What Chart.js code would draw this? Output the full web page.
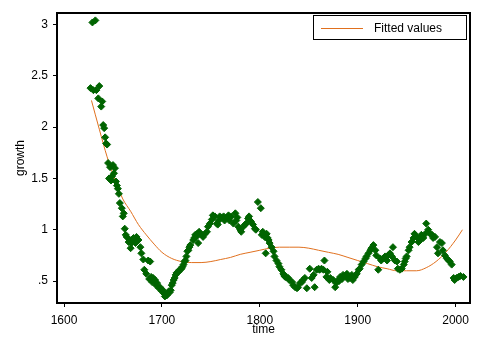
<!DOCTYPE html>
<html>
<head>
<meta charset="utf-8">
<title>growth vs time</title>
<script src="https://cdn.jsdelivr.net/npm/chart.js@4/dist/chart.umd.min.js"></script>
<style>
  body { margin: 0; background: #fff; }
  canvas { display: block; }
</style>
</head>
<body>
<canvas id="myChart" width="484" height="352"></canvas>
<script>
// scatter: growth by year
const years = [
  1627, 1629, 1630, 1632, 1633, 1635, 1636, 1638, 1639, 1640, 1641, 1642, 1643, 1644,
  1645, 1646, 1647, 1648, 1649, 1650, 1651, 1652, 1653, 1654, 1655, 1656, 1657, 1659,
  1660, 1661, 1662, 1663, 1664, 1666, 1667, 1668, 1669, 1671, 1673, 1674, 1676, 1678,
  1679, 1681, 1682, 1684, 1686, 1687, 1688, 1689, 1690, 1691, 1692, 1693, 1694, 1695,
  1697, 1698, 1700, 1701, 1702, 1703, 1704, 1705, 1706, 1707, 1708, 1709, 1710, 1711,
  1712, 1713, 1714, 1715, 1717, 1718, 1720, 1721, 1722, 1723, 1724, 1725, 1726, 1727,
  1728, 1729, 1732, 1733, 1734, 1735, 1736, 1737, 1738, 1739, 1741, 1742, 1744, 1746,
  1747, 1749, 1751, 1752, 1754, 1756, 1757, 1758, 1759, 1761, 1763, 1764, 1766, 1768,
  1769, 1771, 1773, 1775, 1776, 1777, 1778, 1780, 1781, 1783, 1785, 1786, 1788, 1789,
  1790, 1791, 1793, 1795, 1796, 1798, 1801, 1802, 1803, 1804, 1805, 1806, 1807, 1808,
  1809, 1810, 1812, 1814, 1815, 1817, 1819, 1820, 1822, 1824, 1825, 1826, 1827, 1829,
  1830, 1833, 1834, 1836, 1838, 1839, 1841, 1843, 1844, 1846, 1848, 1851, 1853, 1855,
  1856, 1858, 1860, 1861, 1863, 1865, 1866, 1868, 1869, 1871, 1872, 1875, 1877, 1878,
  1880, 1881, 1882, 1884, 1885, 1887, 1889, 1890, 1892, 1894, 1895, 1897, 1899, 1901,
  1902, 1904, 1906, 1908, 1909, 1911, 1913, 1914, 1916, 1918, 1919, 1921, 1923, 1924,
  1926, 1928, 1930, 1931, 1933, 1935, 1936, 1938, 1940, 1941, 1943, 1945, 1947, 1948,
  1949, 1950, 1952, 1953, 1955, 1957, 1958, 1960, 1962, 1964, 1965, 1967, 1969, 1970,
  1972, 1974, 1976, 1977, 1979, 1981, 1982, 1984, 1986, 1987, 1989, 1991, 1993, 1994,
  1996, 1998, 1999, 2001, 2003, 2005, 2008
];
const growth = [
  2.38, 3.02, 2.36, 3.04, 2.36, 2.28, 2.40, 2.20, 2.25, 2.02, 1.99, 1.90, 1.84, 1.83,
  1.65, 1.50, 1.61, 1.48, 1.52, 1.63, 1.55, 1.60, 1.47, 1.43, 1.40, 1.35, 1.26, 1.21,
  1.13, 1.16, 1.01, 0.95, 0.93, 0.88, 0.90, 0.82, 0.87, 0.92, 0.87, 0.93, 0.90, 0.83,
  0.77, 0.71, 0.61, 0.57, 0.70, 0.52, 0.69, 0.54, 0.49, 0.53, 0.51, 0.51, 0.46, 0.48,
  0.43, 0.44, 0.40, 0.41, 0.38, 0.35, 0.37, 0.36, 0.38, 0.40, 0.39, 0.41, 0.46, 0.48,
  0.51, 0.53, 0.56, 0.58, 0.59, 0.61, 0.62, 0.64, 0.66, 0.69, 0.70, 0.74, 0.79, 0.80,
  0.83, 0.85, 0.90, 0.92, 0.95, 0.93, 0.96, 0.87, 0.98, 0.96, 0.95, 0.93, 0.96, 0.98,
  1.03, 1.06, 1.10, 1.14, 1.13, 1.06, 1.05, 1.09, 1.13, 1.12, 1.13, 1.09, 1.12, 1.14,
  1.09, 1.13, 1.06, 1.16, 1.09, 1.12, 1.03, 1.00, 0.98, 1.03, 1.05, 1.06, 1.11, 1.13,
  1.09, 1.08, 1.05, 1.01, 1.00, 1.27, 1.21, 0.95, 0.98, 0.96, 0.93, 0.77, 0.96, 0.92,
  0.90, 0.87, 0.83, 0.79, 0.74, 0.70, 0.67, 0.64, 0.61, 0.57, 0.55, 0.54, 0.54, 0.53,
  0.51, 0.49, 0.46, 0.44, 0.43, 0.44, 0.48, 0.49, 0.51, 0.53, 0.43, 0.62, 0.53, 0.56,
  0.44, 0.61, 0.62, 0.61, 0.62, 0.61, 0.70, 0.54, 0.59, 0.51, 0.53, 0.51, 0.44, 0.48,
  0.51, 0.50, 0.54, 0.52, 0.56, 0.55, 0.57, 0.52, 0.53, 0.56, 0.51, 0.54, 0.57, 0.61,
  0.62, 0.66, 0.69, 0.72, 0.74, 0.77, 0.80, 0.82, 0.85, 0.80, 0.75, 0.61, 0.72, 0.70,
  0.72, 0.74, 0.70, 0.75, 0.77, 0.74, 0.83, 0.70, 0.69, 0.62, 0.61, 0.62, 0.66, 0.69,
  0.72, 0.74, 0.80, 0.83, 0.88, 0.92, 0.96, 0.93, 0.88, 0.90, 0.95, 0.92, 0.96, 1.06,
  1.00, 0.96, 0.95, 0.92, 0.93, 0.83, 0.77, 0.88, 0.87, 0.80, 0.75, 0.72, 0.70, 0.69,
  0.66, 0.53, 0.51, 0.53, 0.54, 0.55, 0.54
];

// fitted values
const fitYears = [1628, 1636, 1644, 1652, 1660, 1668, 1676, 1684, 1692, 1700, 1710, 1720,
  1730, 1740, 1750, 1760, 1770, 1780, 1790, 1800, 1810, 1820, 1830, 1840, 1850, 1860,
  1870, 1880, 1890, 1900, 1910, 1920, 1930, 1940, 1950, 1960, 1970, 1980, 1990, 2000, 2007];
const fitValues = [2.26, 1.98, 1.71, 1.49, 1.30, 1.18, 1.05, 0.95, 0.86, 0.78, 0.72, 0.69,
  0.68, 0.68, 0.69, 0.71, 0.73, 0.76, 0.78, 0.80, 0.82, 0.83, 0.83, 0.83, 0.82, 0.80,
  0.78, 0.76, 0.73, 0.70, 0.67, 0.64, 0.62, 0.60, 0.60, 0.60, 0.63, 0.69, 0.78, 0.90, 1.00];

const xTicks = [1600, 1700, 1800, 1900, 2000];
const yTicks = [0.5, 1, 1.5, 2, 2.5, 3];
const yTickLabels = ['.5', '1', '1.5', '2', '2.5', '3'];

const pointData = years.map((t, i) => ({x: t, y: growth[i]}));
const fitData = fitYears.map((t, i) => ({x: t, y: fitValues[i]}));

Chart.defaults.font.family = '"Liberation Sans", Arial, sans-serif';
Chart.defaults.font.size = 12;
Chart.defaults.color = '#000';

// box round the plot region + legend inside it
const frame = {
  id: 'frame',
  afterDraw(chart) {
    const ctx = chart.ctx;
    const a = chart.chartArea;
    ctx.save();
    ctx.strokeStyle = '#000';
    ctx.lineWidth = 2;
    ctx.strokeRect(a.left, a.top, a.right - a.left, a.bottom - a.top);

    // legend
    const ds = chart.data.datasets[1];
    ctx.lineWidth = 1;
    ctx.strokeRect(313.5, 15.5, 153, 24);
    ctx.strokeStyle = ds.borderColor;
    ctx.beginPath();
    ctx.moveTo(321, 28.5);
    ctx.lineTo(363, 28.5);
    ctx.stroke();
    ctx.fillStyle = '#000';
    ctx.font = '12px "Liberation Sans", Arial, sans-serif';
    ctx.textBaseline = 'middle';
    ctx.textAlign = 'left';
    ctx.fillText(ds.label, 374, 29);
    ctx.restore();
  }
};

const config = {
  type: 'scatter',
  data: {
    datasets: [{
      label: 'growth',
      data: pointData,
      pointStyle: 'rectRot',
      pointRadius: 3.5,
      backgroundColor: '#006400',
      borderColor: '#006400',
      borderWidth: 1,
      showLine: false
    }, {
      label: 'Fitted values',
      type: 'line',
      data: fitData,
      borderColor: '#e0701e',
      borderWidth: 1,
      pointRadius: 0,
      fill: false,
      cubicInterpolationMode: 'monotone'
    }]
  },
  options: {
    responsive: false,
    animation: false,
    layout: { padding: { top: 13, right: 14, left: 0, bottom: 0 } },
    plugins: {
      legend: { display: false },
      tooltip: { enabled: false }
    },
    scales: {
      x: {
        type: 'linear',
        min: 1592.8,
        max: 2014.7,
        afterFit: s => { s.height = 49; },
        afterBuildTicks: s => { s.ticks = xTicks.map(v => ({value: v})); },
        ticks: { padding: 6, maxRotation: 0, callback: v => String(v) },
        grid: { drawOnChartArea: false, tickLength: 4, color: '#000' },
        border: { color: '#000', width: 2 },
        title: { display: true, text: 'time', padding: { top: 0, bottom: 15 } }
      },
      y: {
        min: 0.286,
        max: 3.112,
        afterFit: s => { s.width = 57; },
        afterBuildTicks: s => { s.ticks = yTicks.map(v => ({value: v})); },
        ticks: { padding: 5, callback: v => yTickLabels[yTicks.indexOf(v)] },
        grid: { drawOnChartArea: false, tickLength: 4, color: '#000' },
        border: { color: '#000', width: 2 },
        title: { display: true, text: 'growth', padding: { top: 13, bottom: 0 } }
      }
    }
  },
  plugins: [frame]
};

const myChart = new Chart(document.getElementById('myChart'), config);
</script>
</body>
</html>
